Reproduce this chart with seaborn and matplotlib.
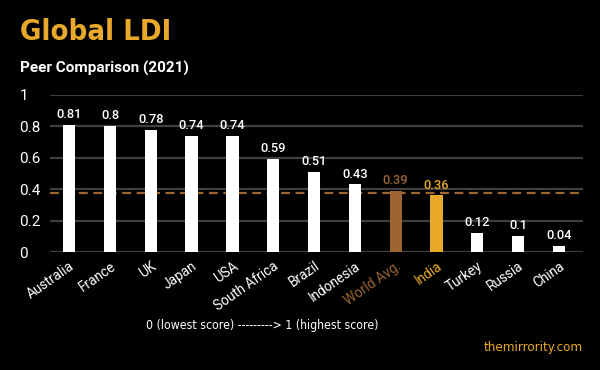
import matplotlib
matplotlib.use("Agg")
import matplotlib.pyplot as plt
import seaborn as sb
import pandas as pd

# data
countries = ["Australia", "France", "UK", "Japan", "USA", "South Africa", "Brazil",
             "Indonesia", "World Avg.", "India", "Turkey", "Russia", "China"]
ldi = [0.81, 0.8, 0.78, 0.74, 0.74, 0.59, 0.51, 0.43, 0.39, 0.36, 0.12, 0.1, 0.04]
world_avg_line = 0.375
y_ticks = [0, 0.2, 0.4, 0.6, 0.8, 1]
y_tick_labels = ["0", "0.2", "0.4", "0.6", "0.8", "1"]

WHITE = "#ffffff"
BROWN = "#9c6532"
GOLD = "#e8a82a"
colors = [BROWN if c == "World Avg." else GOLD if c == "India" else WHITE for c in countries]

df = pd.DataFrame({"country": countries, "ldi": ldi})

sb.set_style("dark")
plt.rcParams["font.family"] = ["Roboto", "DejaVu Sans"]

fig = plt.figure(figsize=(6, 3.7), dpi=100, facecolor="black")
ax = fig.add_axes([50 / 600, 118 / 370, 533 / 600, 157 / 370])
ax.set_facecolor("black")

sb.barplot(data=df, x="country", y="ldi", hue="country", palette=colors,
           width=0.3, legend=False, ax=ax, saturation=1, zorder=3, linewidth=0)

ax.set_ylim(0, 1)
ax.set_xlim(-0.47, 12.59)
ax.set_yticks(y_ticks)
ax.set_yticklabels(y_tick_labels)
for y in y_ticks:
    ax.axhline(y, color="#3f3f3f", lw=1.6, zorder=1)
ax.axhline(world_avg_line, color=BROWN, lw=1.6, ls=(0, (4, 2.5)), zorder=2)
ax.grid(False)
for s in ax.spines.values():
    s.set_visible(False)
ax.set_xlabel("")
ax.set_ylabel("")
ax.tick_params(axis="both", length=0, colors="white")
ax.tick_params(axis="y", labelsize=11, pad=22)
for lbl in ax.get_yticklabels():
    lbl.set_horizontalalignment("left")
ax.tick_params(axis="x", labelsize=9.8, pad=5)
for lbl, col in zip(ax.get_xticklabels(), colors):
    lbl.set_rotation(35)
    lbl.set_ha("right")
    lbl.set_rotation_mode("anchor")
    lbl.set_color(col)

for i, (v, col) in enumerate(zip(ldi, colors)):
    ax.text(i, v + 0.025, f"{v:g}", ha="center", va="bottom", color=col,
            fontsize=9.3, fontweight="medium")

fig.text(20 / 600, 1 - 32 / 370, "Global LDI", color=GOLD, fontsize=21, fontweight="bold",
         family="DejaVu Sans", fontstretch="condensed", va="center", ha="left")
fig.text(20 / 600, 1 - 68 / 370, "Peer Comparison (2021)", color="white", fontsize=11,
         fontweight="bold", va="center", ha="left")
fig.text(262 / 600, 1 - 326 / 370, "0 (lowest score) ---------> 1 (highest score)",
         color="white", fontsize=8.8, va="center", ha="center",
         family="DejaVu Sans", fontstretch="condensed")
fig.text(583 / 600, 1 - 347 / 370, "themirrority.com", color=GOLD, fontsize=9.5,
         va="center", ha="right", family="DejaVu Sans", fontstretch="condensed")

fig.savefig("out.png", dpi=100, facecolor="black")
